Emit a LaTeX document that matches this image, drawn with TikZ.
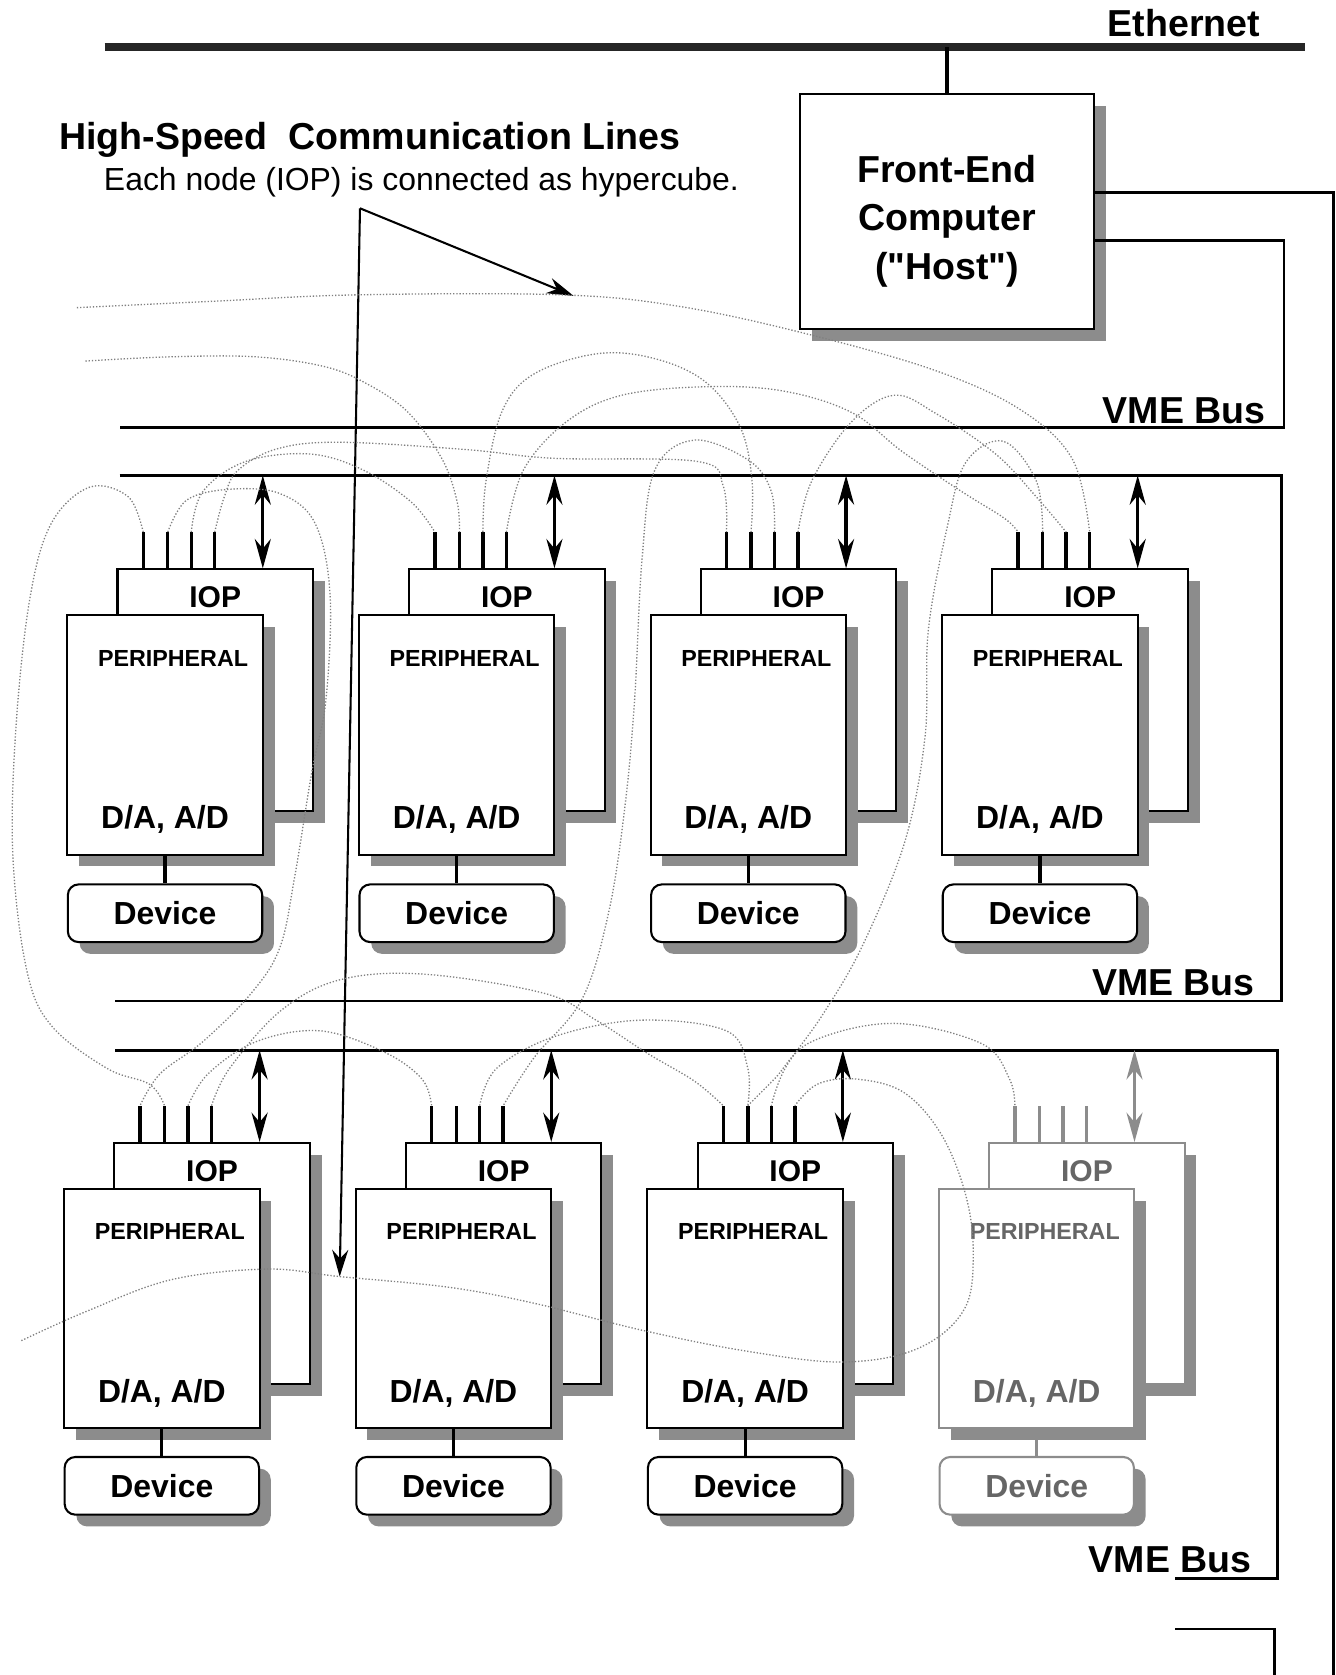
\documentclass[tikz,border=0pt]{standalone}
\usepackage{fontspec}
\setmainfont{Liberation Sans}
\newfontfamily\hostfont{Liberation Sans}[Ligatures=TeXOff]
\usepackage{tikz}
\usetikzlibrary{positioning,shadows,arrows.meta}

\begin{document}
\begin{tikzpicture}[x=0.02cm, y=-0.02cm,
    boxshadow/.style={drop shadow={shadow xshift=0.22cm, shadow yshift=-0.22cm, fill=black!45, opacity=1}},
    iopbox/.style={rectangle, draw, fill=white, line width=1.1pt, boxshadow, minimum width=3.66cm, inner sep=0pt, text height=0.72cm, text depth=3.8cm, font=\fontsize{16}{19}\selectfont\bfseries},
    perbox/.style={rectangle, draw, fill=white, line width=1.1pt, boxshadow, minimum width=3.66cm, inner sep=0pt, text height=0.95cm, text depth=3.53cm, font=\fontsize{12.4}{15}\selectfont\bfseries},
    devbox/.style={rectangle, rounded corners=0.2cm, draw, fill=white, line width=1.1pt, boxshadow, minimum width=3.64cm, minimum height=1.08cm, inner sep=0pt, font=\fontsize{17}{20}\selectfont\bfseries},
    hostbox/.style={rectangle, draw, fill=white, line width=1.1pt, boxshadow, minimum width=5.5cm, minimum height=4.4cm},
    dalbl/.style={anchor=base, inner sep=0pt, font=\fontsize{17}{20}\selectfont\bfseries},
    biglbl/.style={inner sep=0pt, font=\fontsize{20}{24}\selectfont\bfseries},
    faded/.style={draw=black!45, text=black!60},
    conn/.style={line width=1.7pt},
    stub/.style={line width=1.8pt},
    bus/.style={line width=1.5pt},
    biarrow/.style={{Stealth[length=0.55cm,width=0.3cm]}-{Stealth[length=0.55cm,width=0.3cm]}, line width=1.7pt},
    pointer/.style={-{Stealth[length=0.5cm,width=0.3cm]}, line width=1.1pt},
    link/.style={black!50, densely dotted, line width=0.7pt}]

    \useasboundingbox (0,0) rectangle (1250,1568);

    \coordinate (ethL) at (98,44);
    \coordinate (ethR) at (1222,44);
    \draw[line width=4.5pt, black!85] (ethL) -- (ethR);
    \node[biglbl, anchor=base east] (ethlbl) at (1180,34) {Ethernet};

    \node[hostbox] (host) at (886.5,198) {};
    \node[align=center, font=\hostfont\fontsize{20}{26}\selectfont\bfseries] (hosttxt) at (886.5,207) {Front-End\\Computer\\("Host")};
    \draw[line width=2.2pt] (host.north |- ethL) -- (host.north);

    \node[biglbl, anchor=base west] (hsl) at (55,140) {High-Speed\ \ Communication Lines};
    \node[inner sep=0pt, anchor=base west, font=\fontsize{17}{20}\selectfont] (hsnote) at (97,178) {Each node (IOP) is connected as hypercube.};

    \draw[bus] ([yshift=0.36cm]host.east) -| (1248,1568);
    \draw[bus] ([yshift=-0.54cm]host.east) -| (1202,400) -- (112,400);
    \draw[bus] (112,445) -| (1200,937) -- (108,937);
    \draw[bus] (108,983) -| (1196,1478) -- (1100,1478);
    \draw[bus] (1100,1525) -| (1193,1568);
    \coordinate (busT) at (0,445);
    \coordinate (busB) at (0,983);
    \node[biglbl, anchor=base east] (vme1) at (1185,396) {VME Bus};
    \node[biglbl, anchor=base east] (vme2) at (1175,932) {VME Bus};
    \node[biglbl, anchor=base east] (vme3) at (1172,1472) {VME Bus};

    \node[iopbox] (iop1) at (201.5,646) {IOP};
    \node[perbox] (per1) at ([shift={(-47,42)}]iop1) {\hspace*{0.3cm}PERIPHERAL};
    \node[devbox, below=0.52cm of per1] (dev1) {Device};
    \node[dalbl] (da1) at ([yshift=0.5cm]per1.south) {D/A, A/D};
    \draw[conn] (per1) -- (dev1);

    \node[iopbox] (iop2) at (474.5,646) {IOP};
    \node[perbox] (per2) at ([shift={(-47,42)}]iop2) {\hspace*{0.3cm}PERIPHERAL};
    \node[devbox, below=0.52cm of per2] (dev2) {Device};
    \node[dalbl] (da2) at ([yshift=0.5cm]per2.south) {D/A, A/D};
    \draw[conn] (per2) -- (dev2);

    \node[iopbox] (iop3) at (747.5,646) {IOP};
    \node[perbox] (per3) at ([shift={(-47,42)}]iop3) {\hspace*{0.3cm}PERIPHERAL};
    \node[devbox, below=0.52cm of per3] (dev3) {Device};
    \node[dalbl] (da3) at ([yshift=0.5cm]per3.south) {D/A, A/D};
    \draw[conn] (per3) -- (dev3);

    \node[iopbox] (iop4) at (1020.5,646) {IOP};
    \node[perbox] (per4) at ([shift={(-47,42)}]iop4) {\hspace*{0.3cm}PERIPHERAL};
    \node[devbox, below=0.52cm of per4] (dev4) {Device};
    \node[dalbl] (da4) at ([yshift=0.5cm]per4.south) {D/A, A/D};
    \draw[conn] (per4) -- (dev4);

    \node[iopbox] (iop5) at (198.5,1183) {IOP};
    \node[perbox] (per5) at ([shift={(-47,42)}]iop5) {\hspace*{0.3cm}PERIPHERAL};
    \node[devbox, below=0.5cm of per5] (dev5) {Device};
    \node[dalbl] (da5) at ([yshift=0.5cm]per5.south) {D/A, A/D};
    \draw[conn] (per5) -- (dev5);

    \node[iopbox] (iop6) at (471.5,1183) {IOP};
    \node[perbox] (per6) at ([shift={(-47,42)}]iop6) {\hspace*{0.3cm}PERIPHERAL};
    \node[devbox, below=0.5cm of per6] (dev6) {Device};
    \node[dalbl] (da6) at ([yshift=0.5cm]per6.south) {D/A, A/D};
    \draw[conn] (per6) -- (dev6);

    \node[iopbox] (iop7) at (744.5,1183) {IOP};
    \node[perbox] (per7) at ([shift={(-47,42)}]iop7) {\hspace*{0.3cm}PERIPHERAL};
    \node[devbox, below=0.5cm of per7] (dev7) {Device};
    \node[dalbl] (da7) at ([yshift=0.5cm]per7.south) {D/A, A/D};
    \draw[conn] (per7) -- (dev7);

    \node[iopbox, faded] (iop8) at (1017.5,1183) {IOP};
    \node[perbox, faded] (per8) at ([shift={(-47,42)}]iop8) {\hspace*{0.3cm}PERIPHERAL};
    \node[devbox, faded, below=0.5cm of per8] (dev8) {Device};
    \node[dalbl, text=black!60] (da8) at ([yshift=0.5cm]per8.south) {D/A, A/D};
    \draw[conn, black!45] (per8) -- (dev8);

    \foreach \u/\b/\c in {1/busT/black, 2/busT/black, 3/busT/black, 4/busT/black, 5/busB/black, 6/busB/black, 7/busB/black, 8/busB/black!45} {
        \foreach \s/\dx in {a/0.5cm, b/0.96cm, c/1.4cm, d/1.84cm}
            \draw[stub, \c] ([xshift=\dx]iop\u.north west) -- ++(0,-34) coordinate (s\u\s);
        \coordinate (ar\u) at ([xshift=2.74cm]iop\u.north west);
        \draw[biarrow, \c] (ar\u) -- (ar\u |- \b);
    }

    \coordinate (ptr) at (337,195);
    \coordinate (pA) at (537,277);
    \coordinate (pB) at (318,1195);
    \draw[pointer] (ptr) -- (pA);
    \draw[pointer] (ptr) -- (pB);

    \coordinate (lA) at (72,288);
    \coordinate (lB) at (80,338);
    \coordinate (lC) at (20,1255);
    \draw[link] plot[smooth, tension=0.6] coordinates {(lA) (200,282) (335,276) (526,276) (637,287) (757,313) (876,347) (956,384) (1004,430) (s4d)};
    \draw[link] plot[smooth, tension=0.6] coordinates {(lB) (160,334) (239,334) (303,343) (343,359) (382,386) (414,430) (428,470) (s2b)};
    \draw[link] plot[smooth, tension=0.6] coordinates {(s2c) (455,450) (470,385) (500,350) (560,331) (614,336) (661,358) (693,400) (704,450) (s3b)};
    \draw[link] plot[smooth, tension=0.6] coordinates {(s2d) (490,440) (530,395) (582,370) (661,362) (733,366) (797,386) (845,423) (900,460) (940,485) (s4a)};
    \draw[link] plot[smooth, tension=0.6] coordinates {(s3d) (760,450) (797,395) (837,370) (876,387) (932,425) (970,465) (s4c)};
    \draw[link] plot[smooth, tension=0.6] coordinates {(s1d) (210,465) (223,440) (260,420) (319,414) (438,421) (518,429) (653,432) (677,455) (s3a)};
    \draw[link] plot[smooth, tension=0.6] coordinates {(s1c) (190,460) (230,432) (290,425) (340,440) (385,470) (s2a)};
    \draw[link] plot[smooth, tension=0.6] coordinates {(s1a) (120,465) (84,456) (48,490) (28,560) (15,680) (12,800) (25,908) (48,960) (100,1000) (140,1015) (s5b)};
    \draw[link] plot[smooth, tension=0.6] coordinates {(s1b) (175,468) (215,458) (262,462) (295,490) (309,557) (305,656) (292,722) (276,820) (262,887) (235,930) (190,975) (150,1005) (s5a)};
    \draw[link] plot[smooth, tension=0.6] coordinates {(s3c) (722,460) (701,431) (650,412) (613,440) (601,524) (594,656) (585,755) (570,853) (545,935) (500,990) (s6d)};
    \draw[link] plot[smooth, tension=0.6] coordinates {(s4b) (970,450) (939,413) (904,433) (887,492) (869,590) (866,689) (847,788) (807,886) (770,950) (735,1000) (s7c)};
    \draw[link] plot[smooth, tension=0.6] coordinates {(s5d) (215,1000) (263,946) (319,917) (398,912) (510,930) (558,955) (606,986) (650,1012) (s7a)};
    \draw[link] plot[smooth, tension=0.6] coordinates {(s5c) (195,1005) (240,975) (300,965) (360,985) (395,1010) (s6a)};
    \draw[link] plot[smooth, tension=0.6] coordinates {(s6c) (465,1000) (520,970) (600,955) (680,965) (700,1000) (s7b)};
    \draw[link] plot[smooth, tension=0.6] coordinates {(s7b) (725,1010) (760,975) (837,958) (919,977) (945,1010) (s8a)};
    \draw[link] plot[smooth, tension=0.6] coordinates {(lC) (80,1228) (160,1198) (250,1188) (318,1195) (420,1205) (500,1220) (600,1245) (700,1265) (790,1275) (860,1262) (903,1225) (911,1170) (903,1115) (880,1060) (845,1022) (800,1010) (765,1015) (s7d)};
\end{tikzpicture}
\end{document}
